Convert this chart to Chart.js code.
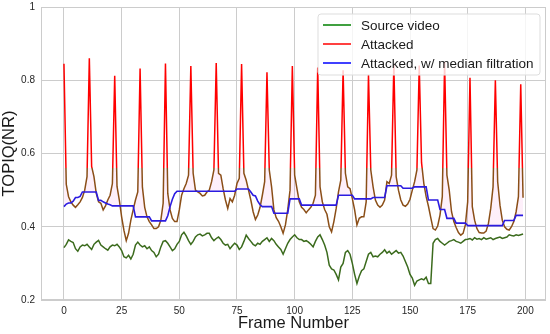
<!DOCTYPE html>
<html>
<head>
<meta charset="utf-8">
<script src="https://cdn.jsdelivr.net/npm/chart.js@4.4.1/dist/chart.umd.min.js"></script>
<style>
  html, body { margin: 0; padding: 0; background: #ffffff; }
  #chart { display: block; }
</style>
</head>
<body>
<canvas id="chart" width="550" height="334"></canvas>
<script>
/* ── Data (one value per frame, 0..199) ── */
const sourceVideo = [
  0.343, 0.352, 0.364, 0.360, 0.357, 0.340, 0.333, 0.345, 0.350, 0.348,
  0.352, 0.345, 0.338, 0.352, 0.358, 0.363, 0.350, 0.345, 0.340, 0.336,
  0.345, 0.350, 0.348, 0.352, 0.345, 0.335, 0.318, 0.315, 0.322, 0.312,
  0.325, 0.350, 0.358, 0.350, 0.345, 0.348, 0.340, 0.345, 0.335, 0.330,
  0.318, 0.325, 0.345, 0.360, 0.362, 0.355, 0.345, 0.335, 0.340, 0.352,
  0.360, 0.378, 0.385, 0.375, 0.362, 0.352, 0.360, 0.372, 0.378, 0.380,
  0.375, 0.378, 0.382, 0.382, 0.370, 0.362, 0.368, 0.372, 0.365, 0.355,
  0.350, 0.352, 0.340, 0.348, 0.355, 0.350, 0.338, 0.345, 0.360, 0.377,
  0.368, 0.360, 0.352, 0.348, 0.355, 0.352, 0.360, 0.365, 0.370, 0.360,
  0.368, 0.362, 0.352, 0.345, 0.338, 0.325, 0.340, 0.355, 0.365, 0.372,
  0.378, 0.370, 0.365, 0.365, 0.360, 0.362, 0.358, 0.352, 0.345, 0.360,
  0.372, 0.378, 0.365, 0.350, 0.330, 0.295, 0.285, 0.282, 0.270, 0.255,
  0.290, 0.300, 0.330, 0.335, 0.325, 0.300, 0.270, 0.245, 0.265, 0.280,
  0.285, 0.305, 0.325, 0.330, 0.318, 0.320, 0.318, 0.325, 0.330, 0.337,
  0.328, 0.333, 0.325, 0.330, 0.335, 0.328, 0.330, 0.320, 0.305, 0.290,
  0.270, 0.260, 0.240, 0.252, 0.255, 0.258, 0.255, 0.262, 0.245, 0.245,
  0.355, 0.365, 0.368, 0.360, 0.355, 0.350, 0.355, 0.360, 0.362, 0.365,
  0.360, 0.358, 0.355, 0.360, 0.365, 0.366, 0.368, 0.364, 0.370, 0.366,
  0.368, 0.365, 0.370, 0.366, 0.368, 0.370, 0.365, 0.368, 0.370, 0.372,
  0.368, 0.370, 0.372, 0.378, 0.376, 0.375, 0.378, 0.376, 0.378, 0.380
];

const attacked = [
  0.845, 0.516, 0.482, 0.468, 0.459, 0.453, 0.460, 0.468, 0.480, 0.500,
  0.537, 0.860, 0.565, 0.537, 0.491, 0.468, 0.464, 0.446, 0.457, 0.473,
  0.486, 0.518, 0.812, 0.510, 0.473, 0.427, 0.390, 0.362, 0.382, 0.418,
  0.446, 0.473, 0.495, 0.832, 0.509, 0.453, 0.427, 0.414, 0.405, 0.395,
  0.395, 0.400, 0.418, 0.464, 0.846, 0.491, 0.446, 0.423, 0.414, 0.414,
  0.446, 0.486, 0.504, 0.518, 0.541, 0.839, 0.546, 0.500, 0.495, 0.491,
  0.484, 0.486, 0.495, 0.500, 0.523, 0.555, 0.847, 0.546, 0.541, 0.504,
  0.473, 0.450, 0.477, 0.468, 0.486, 0.518, 0.532, 0.844, 0.546, 0.527,
  0.500, 0.473, 0.441, 0.420, 0.432, 0.453, 0.486, 0.523, 0.822, 0.555,
  0.509, 0.446, 0.425, 0.415, 0.400, 0.382, 0.405, 0.446, 0.500, 0.839,
  0.541, 0.504, 0.468, 0.453, 0.447, 0.438, 0.446, 0.453, 0.464, 0.486,
  0.835, 0.509, 0.468, 0.447, 0.434, 0.400, 0.386, 0.414, 0.450, 0.495,
  0.527, 0.827, 0.546, 0.509, 0.504, 0.477, 0.446, 0.405, 0.423, 0.427,
  0.427, 0.468, 0.815, 0.555, 0.509, 0.473, 0.459, 0.453, 0.459, 0.473,
  0.523, 0.518, 0.541, 0.845, 0.537, 0.500, 0.473, 0.459, 0.456, 0.462,
  0.475, 0.500, 0.523, 0.555, 0.840, 0.575, 0.518, 0.482, 0.456, 0.425,
  0.395, 0.391, 0.402, 0.432, 0.482, 0.850, 0.541, 0.500, 0.441, 0.414,
  0.398, 0.384, 0.377, 0.382, 0.405, 0.468, 0.807, 0.455, 0.418, 0.395,
  0.384, 0.383, 0.383, 0.388, 0.409, 0.450, 0.509, 0.800, 0.523, 0.459,
  0.418, 0.400, 0.393, 0.391, 0.400, 0.414, 0.441, 0.482, 0.789, 0.479
];

const medianFiltered = [
  0.455, 0.462, 0.465, 0.465, 0.470, 0.480, 0.480, 0.483, 0.495, 0.495,
  0.495, 0.495, 0.495, 0.495, 0.495, 0.472, 0.472, 0.468, 0.465, 0.462,
  0.460, 0.457, 0.457, 0.457, 0.457, 0.457, 0.457, 0.457, 0.457, 0.457,
  0.457, 0.427, 0.427, 0.427, 0.427, 0.427, 0.427, 0.427, 0.416, 0.416,
  0.416, 0.416, 0.416, 0.416, 0.416, 0.430, 0.455, 0.475, 0.490, 0.497,
  0.497, 0.497, 0.497, 0.497, 0.497, 0.497, 0.497, 0.497, 0.497, 0.497,
  0.497, 0.497, 0.497, 0.497, 0.497, 0.497, 0.497, 0.497, 0.497, 0.497,
  0.497, 0.497, 0.497, 0.497, 0.497, 0.503, 0.503, 0.503, 0.503, 0.503,
  0.503, 0.495, 0.486, 0.484, 0.470, 0.460, 0.455, 0.455, 0.455, 0.455,
  0.455, 0.437, 0.437, 0.437, 0.437, 0.437, 0.437, 0.437, 0.476, 0.476,
  0.476, 0.476, 0.476, 0.459, 0.459, 0.459, 0.459, 0.459, 0.459, 0.459,
  0.459, 0.459, 0.459, 0.459, 0.459, 0.459, 0.459, 0.459, 0.459, 0.486,
  0.486, 0.486, 0.486, 0.486, 0.486, 0.486, 0.476, 0.476, 0.476, 0.476,
  0.476, 0.476, 0.476, 0.476, 0.480, 0.480, 0.480, 0.480, 0.480, 0.480,
  0.512, 0.512, 0.512, 0.512, 0.512, 0.512, 0.512, 0.505, 0.505, 0.505,
  0.505, 0.505, 0.509, 0.509, 0.509, 0.509, 0.509, 0.509, 0.473, 0.473,
  0.473, 0.473, 0.473, 0.447, 0.447, 0.447, 0.423, 0.423, 0.423, 0.423,
  0.410, 0.410, 0.410, 0.410, 0.410, 0.403, 0.403, 0.403, 0.403, 0.403,
  0.403, 0.403, 0.403, 0.403, 0.403, 0.403, 0.403, 0.403, 0.403, 0.403,
  0.403, 0.417, 0.417, 0.417, 0.417, 0.417, 0.431, 0.431, 0.431, 0.431
];

/* frame index of every sample */
const frames = attacked.map((_, i) => i);

/* tick labels */
const xTicks = [0, 25, 50, 75, 100, 125, 150, 175, 200];
const yTicks = [0.2, 0.4, 0.6, 0.8, 1];

/* ── Style helpers ─────────────────────────────────────────── */
const GRID = "#cccccc";
const FONT = "'Liberation Sans', Arial, sans-serif";

/* red above the cut value, brown below it (as the picture shows) */
function splitColor(context, above, below, cut) {
  const chart = context.chart;
  const area = chart.chartArea;
  if (!area) return above;
  const y = chart.scales.y.getPixelForValue(cut);
  const t = Math.min(1, Math.max(0, (y - area.top) / (area.bottom - area.top)));
  const g = chart.ctx.createLinearGradient(0, area.top, 0, area.bottom);
  g.addColorStop(0, above);
  g.addColorStop(t, above);
  g.addColorStop(t, below);
  g.addColorStop(1, below);
  return g;
}

/* Frame around the whole plot area (all four spines) */
const framePlugin = {
  id: "frame",
  beforeDatasetsDraw(chart) {
    const { ctx, chartArea: a } = chart;
    ctx.save();
    ctx.strokeStyle = GRID;
    ctx.lineWidth = 1;
    ctx.strokeRect(a.left + 0.5, a.top + 0.5, a.right - a.left - 1, a.bottom - a.top - 1);
    ctx.restore();
  },
};

/* Legend box in the top-right corner of the plot */
const boxLegend = {
  id: "boxLegend",
  afterDraw(chart) {
    const { ctx, chartArea: a } = chart;
    const sets = chart.data.datasets;
    const w = 222, rowH = 19;
    const h = rowH * sets.length + 4;
    const x = a.right - 6 - w, y = a.top + 7;
    ctx.save();
    ctx.beginPath();
    ctx.roundRect(x, y, w, h, 3);
    ctx.fillStyle = "rgba(255,255,255,0.8)";
    ctx.fill();
    ctx.strokeStyle = "#dddddd";
    ctx.lineWidth = 1;
    ctx.stroke();
    ctx.font = "13.5px " + FONT;
    ctx.textBaseline = "middle";
    sets.forEach((ds, i) => {
      const cy = y + 11 + i * rowH;
      ctx.strokeStyle = ds.legendColor;
      ctx.lineWidth = 1.5;
      ctx.beginPath();
      ctx.moveTo(x + 5, cy);
      ctx.lineTo(x + 33, cy);
      ctx.stroke();
      ctx.fillStyle = "#1a1a1a";
      ctx.fillText(ds.label, x + 43, cy + 1);
    });
    ctx.restore();
  },
};

/* ── Chart ─────────────────────────────────────────────────── */
new Chart(document.getElementById("chart"), {
  type: "line",
  data: {
    labels: frames,
    datasets: [
      {
        label: "Source video",
        data: sourceVideo,
        borderColor: "#3b6b1d",
        legendColor: "#008000",
        borderWidth: 1.5,
        order: 3,
      },
      {
        label: "Attacked",
        data: attacked,
        borderColor: (c) => splitColor(c, "#ff0000", "#8a4e17", 0.56),
        backgroundColor: (c) => splitColor(c, "rgba(255,255,255,0)", "rgba(240,80,200,0.09)", 0.56),
        fill: { target: 2, below: "rgba(255,255,255,0)" },
        legendColor: "#ff0000",
        borderWidth: 1.5,
        order: 2,
      },
      {
        label: "Attacked, w/ median filtration",
        data: medianFiltered,
        borderColor: "#2b1be0",
        legendColor: "#0000ff",
        borderWidth: 1.6,
        order: 1,
      },
    ],
  },
  options: {
    responsive: false,
    animation: false,
    layout: { padding: { top: 7, right: 4, left: 0, bottom: 0 } },
    elements: {
      point: { radius: 0 },
      line: { tension: 0 },
    },
    plugins: {
      legend: { display: false },
      tooltip: { enabled: false },
    },
    scales: {
      x: {
        type: "linear",
        min: -9.95,
        max: 208.95,
        afterFit: (s) => { s.height = 34; s.paddingLeft = 0; s.paddingRight = 0; },
        afterBuildTicks: (s) => { s.ticks = xTicks.map((v) => ({ value: v })); },
        grid: { color: GRID, drawTicks: false },
        border: { display: false },
        ticks: {
          padding: 5,
          color: "#262626",
          font: { family: FONT, size: 10 },
          maxRotation: 0,
        },
        title: {
          display: true,
          text: "Frame Number",
          color: "#1a1a1a",
          font: { family: FONT, size: 16.5 },
          padding: { top: 0, bottom: 1 },
        },
      },
      y: {
        min: 0.2,
        max: 1,
        afterFit: (s) => { s.width = 41; s.paddingTop = 0; s.paddingBottom = 0; },
        afterBuildTicks: (s) => { s.ticks = yTicks.map((v) => ({ value: v })); },
        grid: { color: GRID, drawTicks: false },
        border: { display: false },
        ticks: {
          padding: 6,
          color: "#262626",
          font: { family: FONT, size: 10 },
          callback: (v) => String(v),
        },
        title: {
          display: true,
          text: "TOPIQ(NR)",
          color: "#1a1a1a",
          font: { family: FONT, size: 16.5 },
          padding: { top: 0, bottom: 0 },
        },
      },
    },
  },
  plugins: [framePlugin, boxLegend],
});
</script>
</body>
</html>
